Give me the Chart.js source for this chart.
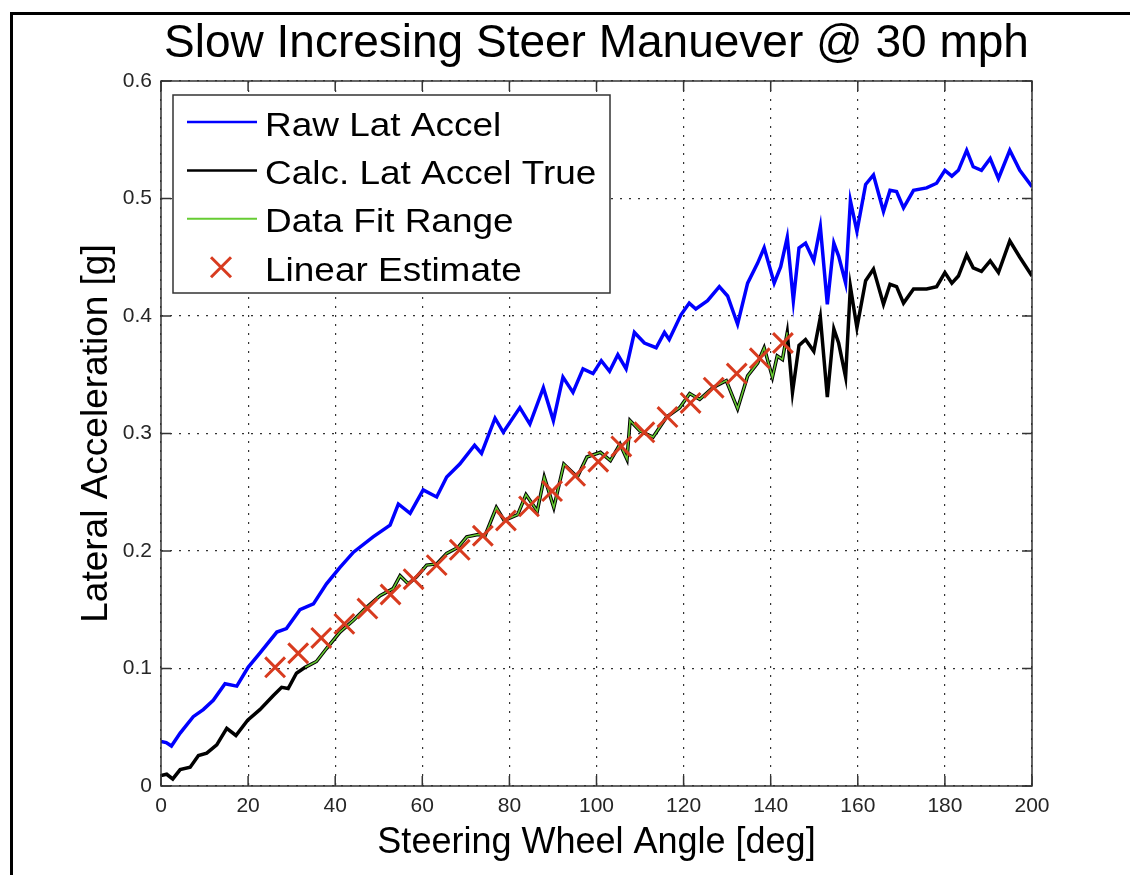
<!DOCTYPE html>
<html>
<head>
<meta charset="utf-8">
<script src="https://cdn.jsdelivr.net/npm/chart.js@4"></script>
<style>
  html, body { margin: 0; padding: 0; background: #fff; overflow: hidden; }
  #wrap { position: relative; width: 1130px; height: 875px; }
  #frame {
    position: absolute; left: 10px; top: 12px; width: 1200px; height: 900px;
    border-left: 3px solid #000; border-top: 3px solid #000; pointer-events: none;
  }
</style>
</head>
<body>
<div id="wrap">
  <canvas id="canvas" width="1130" height="875"></canvas>
  <div id="frame"></div>
</div>
<script>
// values (steering angle in deg, lateral accel in g)
const rawX = [0, 1.2, 2.4, 4.4, 7.4, 9.7, 12, 14.7, 17.4, 20, 22.7, 26.6, 28.8, 31.9, 35, 38, 41.1, 44.2, 48.7, 52.6,
  54.5, 57.2, 60.2, 63.3, 65.6, 68.6, 72, 73.6, 76.7, 78.6, 82.4, 84.7, 87.8, 90.1, 92.3, 94.6, 96.9, 99.2, 101.1, 103,
  104.9, 106.8, 108.7, 111, 113.7, 115.6, 116.7, 119.4, 121.3, 122.8, 125.5, 128.2, 130.1, 132.4, 134.7, 137, 138.5, 140.8, 142.3, 143.8,
  145.2, 146.5, 148, 149.9, 151.4, 153, 154.5, 155.6, 157.2, 158.3, 159.8, 161.8, 163.6, 165.9, 167.4, 168.9, 170.5, 172.8, 175.8, 178.1,
  180, 181.6, 183.1, 185, 186.5, 188.4, 190.4, 192.3, 194.9, 197.2, 200]
const rawY = [0.038, 0.037, 0.034, 0.045, 0.059, 0.065, 0.073, 0.087, 0.085, 0.101, 0.113, 0.131, 0.134, 0.150, 0.155, 0.172, 0.186, 0.199, 0.212, 0.222,
  0.240, 0.232, 0.252, 0.246, 0.263, 0.274, 0.290, 0.283, 0.313, 0.301, 0.322, 0.308, 0.339, 0.311, 0.348, 0.335, 0.355, 0.351, 0.362, 0.353,
  0.367, 0.355, 0.386, 0.377, 0.373, 0.386, 0.380, 0.401, 0.411, 0.406, 0.413, 0.425, 0.417, 0.393, 0.428, 0.445, 0.458, 0.428, 0.442, 0.467,
  0.413, 0.458, 0.462, 0.447, 0.476, 0.410, 0.462, 0.451, 0.428, 0.498, 0.472, 0.512, 0.520, 0.489, 0.507, 0.506, 0.492, 0.507, 0.509, 0.513,
  0.524, 0.519, 0.524, 0.541, 0.527, 0.524, 0.534, 0.517, 0.541, 0.524, 0.510]

const calcHeadX = [0, 1.3, 2.7, 4.4, 6.7, 8.6, 10.5, 12.8, 15.1, 17.2, 19.9, 22.7, 25.8, 27.7, 29.2, 31.1, 33.1]
const calcHeadY = [0.009, 0.010, 0.006, 0.014, 0.016, 0.026, 0.028, 0.035, 0.049, 0.043, 0.056, 0.065, 0.077, 0.084, 0.083, 0.096, 0.101]

const fitX = [33.1, 35.7, 38, 41.1, 44.2, 47.2, 50.3, 53.3, 54.9, 56.8, 58.7, 61, 63.3, 65.6, 68.2, 70.2, 72.8, 74.4, 77, 78.8,
  81.9, 83.8, 86.4, 88, 90.2, 92.5, 95.6, 97.8, 100.9, 103.2, 105.4, 107, 107.7, 110, 113, 116.1, 119.1, 121.4, 123.7, 126.7,
  129.8, 132.4, 134.7, 137, 138.5, 140.4, 141.5, 142.7, 143.8]
const fitY = [0.101, 0.106, 0.117, 0.131, 0.141, 0.152, 0.162, 0.168, 0.179, 0.172, 0.178, 0.188, 0.189, 0.198, 0.203, 0.212, 0.214, 0.213, 0.237, 0.226,
  0.231, 0.248, 0.234, 0.263, 0.237, 0.274, 0.263, 0.280, 0.284, 0.277, 0.291, 0.278, 0.311, 0.302, 0.297, 0.314, 0.322, 0.334, 0.329, 0.339,
  0.345, 0.321, 0.349, 0.360, 0.373, 0.348, 0.366, 0.363, 0.386]

const calcTailX = [145, 146.5, 148, 149.9, 151.4, 153, 154.5, 155.6, 157.2, 158.3, 159.8, 161.8, 163.6, 165.9, 167.4, 168.9, 170.5, 172.8,
  175.8, 178.1, 180, 181.6, 183.1, 185, 186.5, 188.4, 190.4, 192.3, 194.9, 197.2, 200]
const calcTailY = [0.335, 0.375, 0.380, 0.370, 0.399, 0.331, 0.389, 0.377, 0.348, 0.425, 0.390, 0.430, 0.440, 0.410, 0.427, 0.425, 0.411, 0.423,
  0.423, 0.425, 0.437, 0.428, 0.434, 0.452, 0.441, 0.438, 0.447, 0.437, 0.464, 0.450, 0.434]

const estX = [26.2, 31.5, 36.8, 42.1, 47.4, 52.7, 58.0, 63.3, 68.6, 73.9, 79.2, 84.5, 89.8, 95.1, 100.4, 105.7, 111.0, 116.3, 121.6, 126.9, 132.2, 137.5, 142.8]
const estY = [0.101, 0.113, 0.126, 0.138, 0.151, 0.163, 0.176, 0.188, 0.201, 0.213, 0.226, 0.238, 0.251, 0.264, 0.276, 0.289, 0.301, 0.314, 0.326, 0.339, 0.351, 0.364, 0.377]

const xTicks = [0, 20, 40, 60, 80, 100, 120, 140, 160, 180, 200]
const yTicks = [0, 0.1, 0.2, 0.3, 0.4, 0.5, 0.6]

const legendOrder = ["Raw Lat Accel", "Calc. Lat Accel True", "Data Fit Range", "Linear Estimate"]

const FONT = "'Liberation Sans', Arial, Helvetica, sans-serif"
Chart.defaults.font.family = FONT
Chart.defaults.color = "#262626"

const toPoints = (xs, ys) => xs.map((x, i) => ({ x, y: ys[i] }))
// the black trace runs underneath the green fit range
const calcX = calcHeadX.concat(fitX.slice(1), calcTailX)
const calcY = calcHeadY.concat(fitY.slice(1), calcTailY)

const red = "#d83b1f"

// MATLAB style box with inward ticks on all four sides
const axesBox = {
  id: "axesBox",
  afterDatasetsDraw(chart) {
    const { ctx, chartArea: a, scales: { x, y } } = chart
    const len = 10
    ctx.save()
    ctx.strokeStyle = "#333"
    ctx.lineWidth = 1.5
    ctx.beginPath()
    for (const t of x.ticks) {
      const px = x.getPixelForValue(t.value)
      ctx.moveTo(px, a.bottom); ctx.lineTo(px, a.bottom - len)
      ctx.moveTo(px, a.top); ctx.lineTo(px, a.top + len)
    }
    for (const t of y.ticks) {
      const py = y.getPixelForValue(t.value)
      ctx.moveTo(a.left, py); ctx.lineTo(a.left + len, py)
      ctx.moveTo(a.right, py); ctx.lineTo(a.right - len, py)
    }
    ctx.stroke()
    ctx.strokeRect(a.left, a.top, a.right - a.left, a.bottom - a.top)
    ctx.restore()
  }
}

const matlabLegend = {
  id: "matlabLegend",
  afterDatasetsDraw(chart) {
    const ctx = chart.ctx
    const left = 173, top = 95, w = 437, h = 198
    ctx.save()
    ctx.fillStyle = "#fff"
    ctx.fillRect(left, top, w, h)
    ctx.strokeStyle = "#333"
    ctx.lineWidth = 1.5
    ctx.strokeRect(left, top, w, h)

    ctx.font = "33px " + FONT
    ctx.textBaseline = "alphabetic"
    legendOrder.forEach((label, i) => {
      const ds = chart.data.datasets.find(d => d.label === label)
      const cy = 122 + i * 48.4
      if (ds.showLine === false) {
        const r = 10
        ctx.strokeStyle = ds.pointBorderColor
        ctx.lineWidth = ds.pointBorderWidth
        ctx.beginPath()
        ctx.moveTo(221 - r, cy - r); ctx.lineTo(221 + r, cy + r)
        ctx.moveTo(221 + r, cy - r); ctx.lineTo(221 - r, cy + r)
        ctx.stroke()
      } else {
        ctx.strokeStyle = ds.borderColor
        ctx.lineWidth = ds.label === "Data Fit Range" ? 2 : 2.5
        ctx.beginPath()
        ctx.moveTo(187, cy); ctx.lineTo(257, cy)
        ctx.stroke()
      }
      ctx.fillStyle = "#000"
      ctx.save()
      ctx.translate(265, cy + 13.5)
      ctx.scale(1.12, 1)
      ctx.fillText(label, 0, 0)
      ctx.restore()
    })
    ctx.restore()
  }
}

const canvas = document.getElementById("canvas")
new Chart(canvas, {
  type: "line",
  data: {
    datasets: [
      {
        label: "Linear Estimate",
        data: toPoints(estX, estY),
        showLine: false,
        pointStyle: "crossRot",
        pointRadius: 14,
        pointBorderWidth: 3,
        pointBorderColor: red,
        borderColor: red,
        backgroundColor: red
      },
      {
        label: "Data Fit Range",
        data: toPoints(fitX, fitY),
        borderColor: "#66cc33",
        borderWidth: 1.5,
        pointRadius: 0
      },
      {
        label: "Calc. Lat Accel True",
        data: toPoints(calcX, calcY),
        borderColor: "#000",
        borderWidth: 3.5,
        pointRadius: 0
      },
      {
        label: "Raw Lat Accel",
        data: toPoints(rawX, rawY),
        borderColor: "#0000ff",
        borderWidth: 3.5,
        pointRadius: 0
      }
    ]
  },
  options: {
    responsive: false,
    animation: false,
    events: [],
    layout: { padding: { left: 0, right: 98, top: 0, bottom: 0 } },
    plugins: {
      legend: { display: false },
      tooltip: { enabled: false },
      title: {
        display: true,
        fullSize: false,
        text: "Slow Incresing Steer Manuever @ 30 mph",
        color: "#000",
        font: { size: 46, weight: "normal", lineHeight: 1.2 },
        padding: { top: 17, bottom: 8.8 }
      }
    },
    scales: {
      x: {
        type: "linear",
        min: 0,
        max: 200,
        afterBuildTicks: s => { s.ticks = xTicks.map(v => ({ value: v })) },
        afterFit: s => { s.height = 89 },
        ticks: { font: { size: 21 }, padding: 8, maxRotation: 0, autoSkip: false },
        grid: { color: "#333", lineWidth: 1.2, drawTicks: false },
        border: { display: false, dash: [2, 7] },
        title: {
          display: true,
          text: "Steering Wheel Angle [deg]",
          color: "#000",
          font: { size: 36, lineHeight: 1.2 },
          padding: { top: 0, bottom: 10 }
        }
      },
      y: {
        min: 0,
        max: 0.6,
        afterBuildTicks: s => { s.ticks = yTicks.map(v => ({ value: v })) },
        afterFit: s => { s.width = 161 },
        ticks: { font: { size: 21 }, padding: 9, autoSkip: false },
        grid: { color: "#333", lineWidth: 1.2, drawTicks: false },
        border: { display: false, dash: [2, 7] },
        title: {
          display: true,
          text: "Lateral Acceleration [g]",
          color: "#000",
          font: { size: 37, lineHeight: 1.2 },
          padding: { top: 75, bottom: 0 }
        }
      }
    }
  },
  plugins: [axesBox, matlabLegend]
})
</script>
</body>
</html>
